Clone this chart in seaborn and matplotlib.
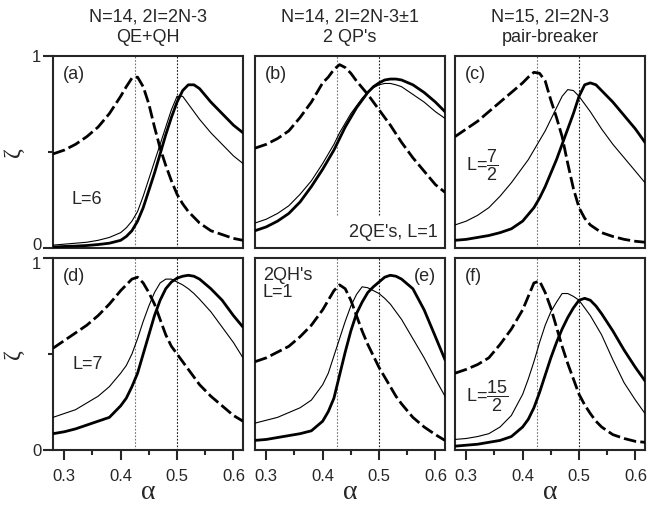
import matplotlib
matplotlib.use("Agg")
import matplotlib.pyplot as plt
from matplotlib.transforms import ScaledTranslation
import seaborn as sns
import pandas as pd

# griglia in alpha comune a tutte le curve
ALPHA = [0.28, 0.30, 0.32, 0.34, 0.36, 0.38, 0.40, 0.41, 0.42, 0.43, 0.44, 0.45, 0.46,
         0.47, 0.48, 0.49, 0.50, 0.51, 0.52, 0.53, 0.54, 0.56, 0.58, 0.60, 0.617]

# (a) N=14, QE+QH, L=6
A_DASH = [.49, .51, .54, .58, .63, .70, .79, .84, .885, .89, .84, .75, .63, .52, .43, .35, .28,
          .23, .19, .16, .13, .09, .07, .05, .04]
A_THIN = [.015, .02, .025, .03, .04, .055, .08, .105, .14, .19, .27, .36, .45, .54, .63, .72, .79,
          .79, .75, .71, .67, .60, .54, .48, .44]
A_THICK = [.005, .008, .01, .013, .018, .025, .04, .06, .09, .14, .21, .30, .39, .49, .59, .68, .76,
           .82, .85, .85, .83, .76, .70, .64, .60]

# (b) N=14, 2 QE's, L=1
B_DASH = [.52, .54, .57, .61, .68, .76, .86, .89, .93, .955, .94, .91, .87, .835, .80, .76, .72,
          .68, .64, .595, .55, .47, .40, .33, .29]
B_THIN = [.13, .15, .18, .22, .28, .35, .44, .49, .54, .60, .65, .70, .74, .78, .81, .835, .85,
          .857, .857, .85, .84, .80, .76, .71, .675]
B_THICK = [.09, .11, .14, .18, .24, .32, .41, .46, .51, .57, .63, .68, .73, .77, .81, .84, .86,
           .875, .88, .88, .875, .85, .81, .76, .71]

# (c) N=15, pair-breaker, L=7/2
C_DASH = [.58, .62, .66, .71, .76, .81, .86, .89, .915, .91, .87, .77, .68, .58, .44, .31, .21,
          .155, .12, .10, .08, .06, .045, .035, .03]
C_THIN = [.12, .14, .17, .21, .27, .34, .42, .46, .51, .56, .61, .67, .73, .79, .825, .82, .79,
          .75, .71, .665, .62, .54, .47, .40, .34]
C_THICK = [.04, .045, .055, .065, .08, .10, .14, .175, .21, .26, .32, .39, .46, .54, .62, .70, .79,
           .85, .86, .85, .82, .76, .69, .62, .55]

# (d) N=14, QE+QH, L=7
D_DASH = [.53, .57, .61, .65, .70, .76, .83, .86, .89, .90, .87, .82, .76, .68, .60, .54, .50,
          .46, .42, .38, .34, .28, .23, .18, .15]
D_THIN = [.17, .19, .21, .245, .28, .33, .40, .44, .50, .58, .67, .75, .82, .87, .89, .89, .875,
          .86, .84, .815, .785, .72, .64, .56, .48]
D_THICK = [.085, .095, .11, .13, .15, .17, .23, .27, .33, .40, .50, .60, .70, .78, .84, .875, .895,
           .905, .91, .905, .89, .84, .78, .70, .64]

# (e) N=14, 2 QH's, L=1
E_DASH = [.46, .48, .51, .54, .59, .65, .73, .78, .83, .86, .84, .78, .70, .62, .55, .49, .43,
          .38, .33, .28, .24, .17, .12, .08, .05]
E_THIN = [.14, .155, .17, .195, .22, .26, .34, .40, .49, .58, .67, .75, .81, .85, .845, .83, .815,
          .79, .76, .72, .68, .58, .48, .37, .28]
E_THICK = [.05, .055, .065, .075, .085, .10, .15, .20, .27, .39, .51, .62, .71, .77, .82, .85, .875,
           .90, .91, .905, .89, .84, .73, .59, .47]

# (f) N=15, pair-breaker, L=15/2
F_DASH = [.40, .42, .445, .48, .55, .63, .73, .80, .87, .88, .82, .74, .64, .54, .45, .37, .29,
          .235, .19, .15, .12, .08, .06, .045, .04]
F_THIN = [.055, .06, .07, .085, .12, .18, .29, .37, .46, .56, .65, .72, .77, .815, .815, .80, .78,
          .74, .70, .65, .60, .47, .35, .26, .19]
F_THICK = [.02, .025, .03, .04, .05, .07, .12, .16, .22, .30, .39, .48, .56, .63, .69, .74, .78,
           .79, .78, .75, .71, .62, .52, .43, .36]

COL_TITLES = ["N=14, 2I=2N-3\nQE+QH", "N=14, 2I=2N-3\u00b11\n2 QP's", "N=15, 2I=2N-3\npair-breaker"]
PANELS = [
    ("(a)", A_DASH, A_THIN, A_THICK),
    ("(b)", B_DASH, B_THIN, B_THICK),
    ("(c)", C_DASH, C_THIN, C_THICK),
    ("(d)", D_DASH, D_THIN, D_THICK),
    ("(e)", E_DASH, E_THIN, E_THICK),
    ("(f)", F_DASH, F_THIN, F_THICK),
]

sns.set_style("ticks")
plt.rcParams['font.family'] = ['Liberation Sans', 'DejaVu Sans']
plt.rcParams['mathtext.fontset'] = 'custom'
plt.rcParams['mathtext.rm'] = 'Liberation Sans'
plt.rcParams['mathtext.it'] = 'Liberation Sans'

W, H = 647, 508
fig = plt.figure(figsize=(W / 100, H / 100), dpi=100)

lefts = [53, 255, 455]
tops = [56, 258]
aw, ah = 190, 192

axes = []
for r in range(2):
    for c in range(3):
        ax = fig.add_axes([lefts[c] / W, (H - tops[r] - ah) / H, aw / W, ah / H])
        axes.append(ax)

for i, (ax, (lab, dash, thin, thick)) in enumerate(zip(axes, PANELS)):
    r, c = divmod(i, 3)
    df = pd.DataFrame({'alpha': ALPHA, 'dash': dash, 'thin': thin, 'thick': thick})

    # linee verticali di riferimento
    vmin = 0.17 if lab == "(b)" else 0
    ax.axvline(0.425, ymin=vmin, color='0.45', lw=0.8, ls=(0, (1.5, 1.5)), zorder=1)
    ax.axvline(0.5, ymin=vmin, color='0.1', lw=0.8, ls=(0, (1.5, 1.5)), zorder=1)

    sns.lineplot(data=df, x='alpha', y='dash', ax=ax, color='black', lw=2.0,
                 linestyle=(0, (4.5, 1.5)), zorder=3)
    sns.lineplot(data=df, x='alpha', y='thin', ax=ax, color='black', lw=0.8, zorder=3)
    sns.lineplot(data=df, x='alpha', y='thick', ax=ax, color='black', lw=2.0, zorder=3)

    ax.set_xlim(0.28, 0.617)
    ax.set_ylim(0, 1)
    for s in ax.spines.values():
        s.set_linewidth(1.5)
        s.set_visible(True)
    ax.set_xlabel('')
    ax.set_ylabel('')

    if r == 1:
        ax.set_xticks([0.3, 0.4, 0.5, 0.6])
        ax.set_xticklabels(['0.3', '0.4', '0.5', '0.6'])
        ax.set_xticks([0.35, 0.45, 0.55], minor=True)
        ax.tick_params(axis='x', which='major', length=7, width=1.5, labelsize=12, pad=7)
        ax.tick_params(axis='x', which='minor', length=3.5, width=1.5)
        ax.set_xlabel('\u03b1', fontsize=20, family='Liberation Serif', labelpad=-3)
    else:
        ax.set_xticks([])
        ax.set_title(COL_TITLES[c], fontsize=13, pad=10, linespacing=1.3)

    if c == 0:
        ax.set_yticks([0, 1])
        ax.set_yticklabels(['0', '1'])
        ax.set_yticks([0.5], minor=True)
        ax.tick_params(axis='y', which='major', length=7, width=1.5, labelsize=12, pad=1.5)
        ax.tick_params(axis='y', which='minor', length=3.5, width=1.5)
        ax.set_ylabel('\u03b6', fontsize=17, family='Liberation Serif', labelpad=6)
        # sposto un poco lo "0" sopra e l'"1" sotto fra le due righe
        shifts = [4, 0] if r == 0 else [0, -5]
        for t, dy in zip(ax.yaxis.get_major_ticks(), shifts):
            lbl = t.label1
            lbl.set_transform(lbl.get_transform() + ScaledTranslation(0, dy / 100, fig.dpi_scale_trans))
    else:
        ax.set_yticks([])

    # etichetta del pannello
    if lab == "(e)":
        ax.text(0.955, 0.95, lab, transform=ax.transAxes, ha='right', va='top', fontsize=13)
    else:
        ax.text(0.05, 0.95, lab, transform=ax.transAxes, ha='left', va='top', fontsize=13)

# testi dentro i pannelli
axes[0].text(0.312, 0.25, 'L=6', fontsize=13, va='center')
axes[1].text(0.605, 0.083, "2QE's, L=1", fontsize=13, ha='right', va='center')
axes[2].text(0.30, 0.43, r'L=$\dfrac{7}{2}$', fontsize=13, va='center')
axes[3].text(0.314, 0.445, 'L=7', fontsize=13, va='center')
axes[4].text(0.294, 0.955, "2QH's\nL=1", fontsize=13, va='top', linespacing=1.0)
axes[5].text(0.30, 0.28, r'L=$\dfrac{15}{2}$', fontsize=13, va='center')

fig.savefig('out.png', dpi=100)
